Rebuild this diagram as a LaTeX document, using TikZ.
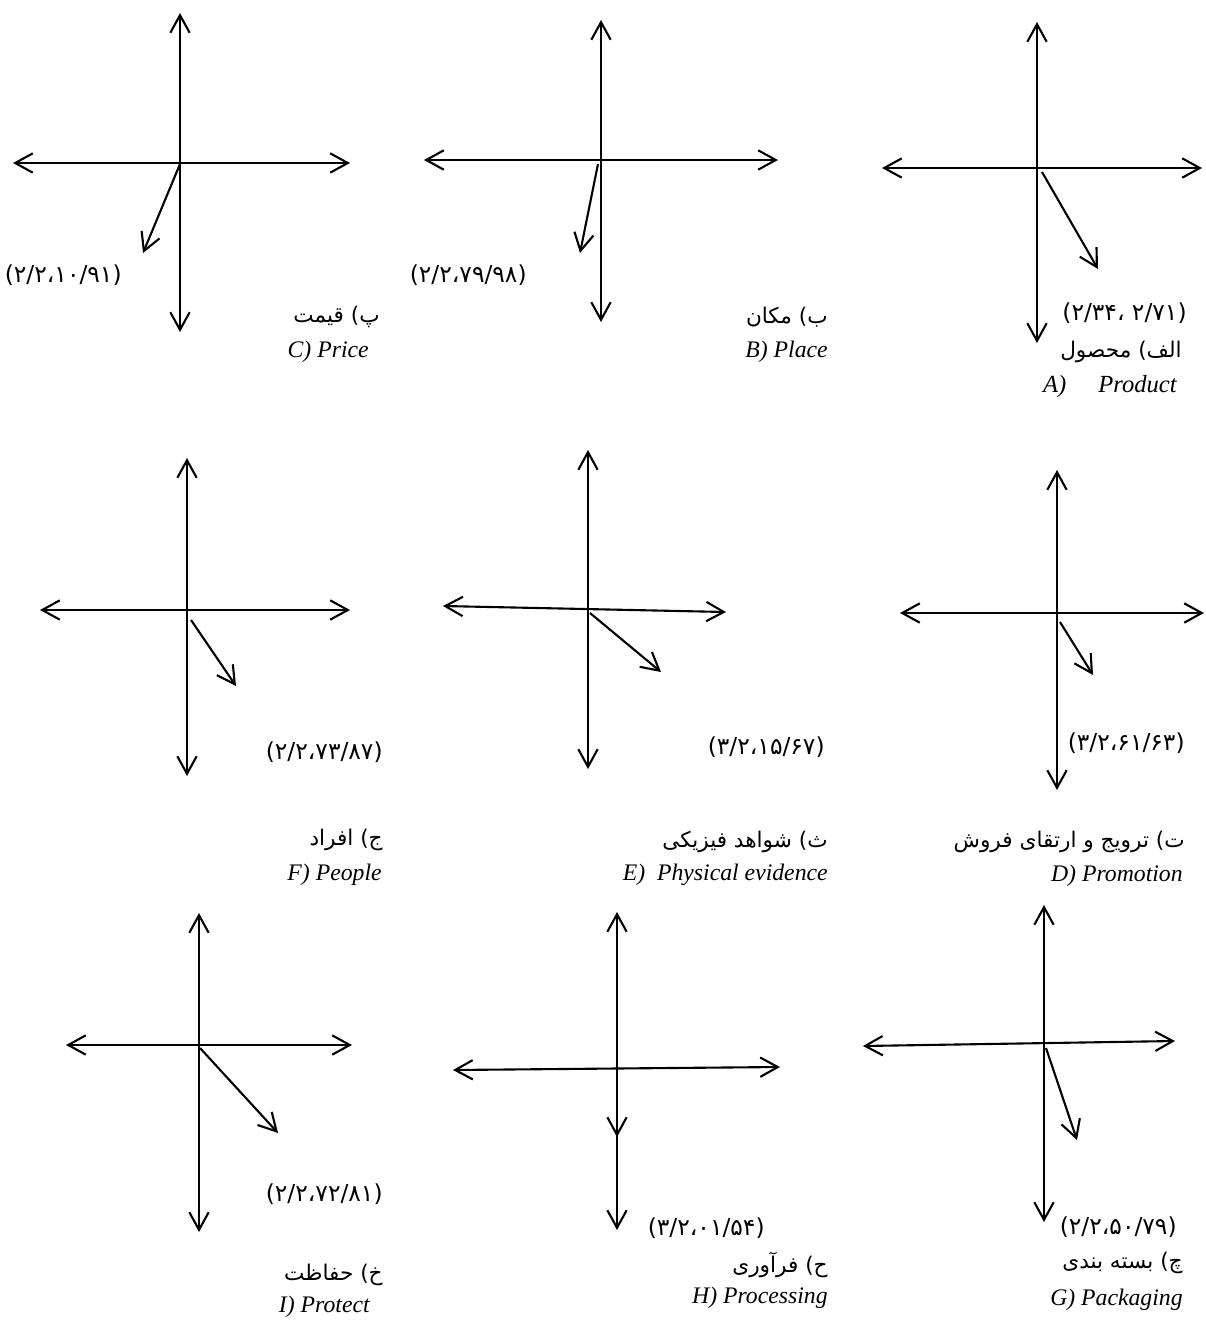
\documentclass[tikz,border=0pt]{standalone}
\usepackage{fontspec}
\setmainfont{Liberation Serif}
\newfontfamily\farsi[Script=Arabic]{DejaVu Sans}
\TeXXeTstate=1
\usetikzlibrary{arrows.meta}
\tikzset{
  axis/.style={
    {Straight Barb[length=10pt,width=11pt]}-{Straight Barb[length=10pt,width=11pt]},
    line width=1.2pt
  },
  vector/.style={-{Straight Barb[length=10pt,width=11pt]}, line width=1.2pt},
  value/.style={anchor=east, inner sep=0pt, font=\farsi\fontsize{13.3}{15}\selectfont},
  falabel/.style={anchor=east, inner sep=0pt, font=\farsi\fontsize{12.3}{14}\selectfont},
  enlabel/.style={anchor=east, inner sep=0pt, font=\fontsize{13.5}{16}\selectfont\itshape}
}

\begin{document}
\begin{tikzpicture}[x=0.02cm, y=-0.02cm]

\useasboundingbox (0,0) rectangle (1206,1326);

% ── Row 1: C) Price ─────────────────────────────────────────────────────────
\coordinate (priceW) at (13,163);
\coordinate (priceE) at (350,163);
\coordinate (priceN) at (180,13);
\coordinate (priceS) at (180,332);
\coordinate (priceT) at (180,164);
\coordinate (priceH) at (143,253);
\draw[axis] (priceW) -- (priceE);
\draw[axis] (priceN) -- (priceS);
\draw[vector] (priceT) -- (priceH);
\node[value] (priceval) at (122,275) {(۲/۲،۱۰/۹۱)};
\node[falabel] (pricefa) at (380,317) {\beginR پ) قیمت\endR};
\node[enlabel] (priceen) at (369,352) {C) Price};

% ── Row 1: B) Place ─────────────────────────────────────────────────────────
\coordinate (placeW) at (424,160);
\coordinate (placeE) at (778,160);
\coordinate (placeN) at (601,20);
\coordinate (placeS) at (601,322);
\coordinate (placeT) at (598,164);
\coordinate (placeH) at (580,253);
\draw[axis] (placeW) -- (placeE);
\draw[axis] (placeN) -- (placeS);
\draw[vector] (placeT) -- (placeH);
\node[value] (placeval) at (527,275) {(۲/۲،۷۹/۹۸)};
\node[falabel] (placefa) at (828,317) {\beginR ب) مکان\endR};
\node[enlabel] (placeen) at (828,352) {B) Place};

% ── Row 1: A) Product ───────────────────────────────────────────────────────
\coordinate (prodW) at (882,168);
\coordinate (prodE) at (1202,168);
\coordinate (prodN) at (1037,22);
\coordinate (prodS) at (1037,343);
\coordinate (prodT) at (1042,172);
\coordinate (prodH) at (1098,269);
\draw[axis] (prodW) -- (prodE);
\draw[axis] (prodN) -- (prodS);
\draw[vector] (prodT) -- (prodH);
\node[value] (prodval) at (1187,313) {\beginR (۲/۷۱ ،۲/۳۴)\endR};
\node[falabel] (prodfa) at (1182,352) {\beginR الف) محصول\endR};
\node[enlabel, font=\fontsize{14}{17}\selectfont\itshape] (proden) at (1177,387)
  {A)\hspace{1.3em}Product};

% ── Row 2: F) People ────────────────────────────────────────────────────────
\coordinate (peopW) at (40,610);
\coordinate (peopE) at (350,610);
\coordinate (peopN) at (187,458);
\coordinate (peopS) at (187,776);
\coordinate (peopT) at (191,620);
\coordinate (peopH) at (236,686);
\draw[axis] (peopW) -- (peopE);
\draw[axis] (peopN) -- (peopS);
\draw[vector] (peopT) -- (peopH);
\node[value] (peopval) at (383,752) {(۲/۲،۷۳/۸۷)};
\node[falabel] (peopfa) at (383,840) {\beginR ج) افراد\endR};
\node[enlabel] (peopen) at (382,875) {F) People};

% ── Row 2: E) Physical evidence ─────────────────────────────────────────────
\coordinate (physW) at (443,606);
\coordinate (physE) at (726,612);
\coordinate (physN) at (588,450);
\coordinate (physS) at (588,769);
\coordinate (physT) at (590,613);
\coordinate (physH) at (661,672);
\draw[axis] (physW) -- (physE);
\draw[axis] (physN) -- (physS);
\draw[vector] (physT) -- (physH);
\node[value] (physval) at (825,747) {(۳/۲،۱۵/۶۷)};
\node[falabel] (physfa) at (828,842) {\beginR ث) شواهد فیزیکی\endR};
\node[enlabel] (physen) at (828,875) {E)\ \ Physical evidence};

% ── Row 2: D) Promotion ─────────────────────────────────────────────────────
\coordinate (promW) at (900,613);
\coordinate (promE) at (1204,613);
\coordinate (promN) at (1057,470);
\coordinate (promS) at (1057,790);
\coordinate (promT) at (1060,622);
\coordinate (promH) at (1093,675);
\draw[axis] (promW) -- (promE);
\draw[axis] (promN) -- (promS);
\draw[vector] (promT) -- (promH);
\node[value] (promval) at (1185,743) {(۳/۲،۶۱/۶۳)};
\node[falabel] (promfa) at (1185,842) {\beginR ت) ترویج و ارتقای فروش\endR};
\node[enlabel] (promen) at (1183,876) {D) Promotion};

% ── Row 3: I) Protect ───────────────────────────────────────────────────────
\coordinate (protW) at (66,1045);
\coordinate (protE) at (352,1045);
\coordinate (protN) at (199,913);
\coordinate (protS) at (199,1232);
\coordinate (protT) at (200,1048);
\coordinate (protH) at (278,1133);
\draw[axis] (protW) -- (protE);
\draw[axis] (protN) -- (protS);
\draw[vector] (protT) -- (protH);
\node[value] (protval) at (383,1194) {(۲/۲،۷۲/۸۱)};
\node[falabel] (protfa) at (383,1275) {\beginR خ) حفاظت\endR};
\node[enlabel] (proten) at (370,1307) {I) Protect};

% ── Row 3: H) Processing ─────────────────────────────────────────────────────
\coordinate (procW) at (453,1070);
\coordinate (procE) at (780,1067);
\coordinate (procN) at (617,912);
\coordinate (procS) at (617,1230);
\coordinate (procT) at (617,1068);
\coordinate (procH) at (617,1137);
\draw[axis] (procW) -- (procE);
\draw[axis] (procN) -- (procS);
\draw[vector] (procT) -- (procH);
\node[value] (procval) at (765,1228) {(۳/۲،۰۱/۵۴)};
\node[falabel] (procfa) at (828,1265) {\beginR ح) فرآوری\endR};
\node[enlabel] (procen) at (828,1298) {H) Processing};

% ── Row 3: G) Packaging ─────────────────────────────────────────────────────
\coordinate (packW) at (863,1046);
\coordinate (packE) at (1175,1041);
\coordinate (packN) at (1044,905);
\coordinate (packS) at (1044,1222);
\coordinate (packT) at (1046,1048);
\coordinate (packH) at (1077,1140);
\draw[axis] (packW) -- (packE);
\draw[axis] (packN) -- (packS);
\draw[vector] (packT) -- (packH);
\node[value] (packval) at (1177,1227) {(۲/۲،۵۰/۷۹)};
\node[falabel] (packfa) at (1183,1263) {\beginR چ) بسته بندی\endR};
\node[enlabel] (packen) at (1183,1300) {G) Packaging};

\end{tikzpicture}
\end{document}
